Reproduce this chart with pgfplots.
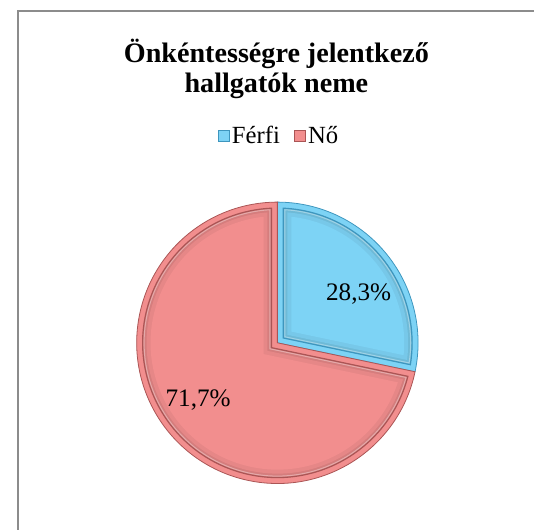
\documentclass[border=0pt]{standalone}
\usepackage{pgfplots}
\pgfplotsset{compat=1.18}
\usepackage{pgfplotstable}
\usepackage{fontspec}
\setmainfont{LiberationSerif}[Extension=.ttf, UprightFont=*-Regular, BoldFont=*-Bold, ItalicFont=*-Italic, BoldItalicFont=*-BoldItalic]
\definecolor{ferfi}{RGB}{125,211,245}
\definecolor{ferfid}{RGB}{62,150,190}
\definecolor{no}{RGB}{242,142,142}
\definecolor{nod}{RGB}{170,85,85}
\definecolor{frame}{RGB}{140,140,140}

\pgfplotstableread{
name value
Ferfi 28.3
No 71.7
}\piedata

% wedge path: start angle #1, end angle #2 (clockwise), radius #3, inset #4 (all in bp)
\newcommand{\wedgepath}[4]{%
  ({#4/sin((#1-#2)/2)*cos((#1+#2)/2)},{#4/sin((#1-#2)/2)*sin((#1+#2)/2)}) --
  ({(#3-#4)*cos(#1-asin(#4/(#3-#4)))},{(#3-#4)*sin(#1-asin(#4/(#3-#4)))})
  arc[start angle={#1-asin(#4/(#3-#4))}, end angle={#2+asin(#4/(#3-#4))}, radius={(#3-#4)*1bp}] -- cycle}

\pgfplotsset{sqlegend/.style={legend image code/.code={\draw[##1] (0bp,-5.5bp) rectangle (11bp,5.5bp);}}}

\begin{document}
\pgfplotstablegetelem{0}{value}\of\piedata \let\vA\pgfplotsretval
\pgfplotstablegetelem{1}{value}\of\piedata \let\vB\pgfplotsretval
\pgfmathsetmacro{\aA}{90}
\pgfmathsetmacro{\aB}{90-3.6*\vA}
\pgfmathsetmacro{\aC}{90-3.6*(\vA+\vB)}
\def\R{142}
\begin{tikzpicture}[x=1bp,y=1bp]
\useasboundingbox (0,0) rectangle (529,534);
\clip (0,0) rectangle (529,534);
\draw[frame, line width=2bp] (8,-5) -- (8,523) -- (529,523);
\begin{axis}[
  at={(120,38)}, anchor=south west,
  x=1bp, y=1bp, disabledatascaling,
  xmin=-150, xmax=150, ymin=-150, ymax=150,
  hide axis, clip=false,
  legend style={at={(0.507,1.197)}, anchor=center, draw=none, fill=none,
    legend columns=2, font=\fontsize{25}{25}\selectfont,
    /tikz/every even column/.append style={column sep=12bp},
    nodes={inner sep=2.5bp}},
]
\addlegendimage{sqlegend, fill=ferfi, draw=ferfid}
\addlegendentry{Férfi}
\addlegendimage{sqlegend, fill=no, draw=nod}
\addlegendentry{Nő}
% Férfi slice
\fill[ferfi, draw=ferfid, line width=0.8bp] \wedgepath{\aA}{\aB}{\R}{0};
\fill[ferfi!88!black] \wedgepath{\aA}{\aB}{\R}{6};
\fill[ferfi!95!black] \wedgepath{\aA}{\aB}{\R}{10};
\fill[ferfi] \wedgepath{\aA}{\aB}{\R}{14};
\draw[ferfid, line width=1.2bp] \wedgepath{\aA}{\aB}{\R}{6};
\draw[white, opacity=0.35, line width=1bp] \wedgepath{\aA}{\aB}{\R}{7.5};
% Nő slice
\fill[no, draw=nod, line width=0.8bp] \wedgepath{\aB}{\aC}{\R}{0};
\fill[no!88!black] \wedgepath{\aB}{\aC}{\R}{6};
\fill[no!95!black] \wedgepath{\aB}{\aC}{\R}{10};
\fill[no] \wedgepath{\aB}{\aC}{\R}{14};
\draw[nod, line width=1.2bp] \wedgepath{\aB}{\aC}{\R}{6};
\draw[white, opacity=0.35, line width=1bp] \wedgepath{\aB}{\aC}{\R}{7.5};
\node[font=\fontsize{25.5}{25.5}\selectfont] at (axis cs:82,49) {28,3\%};
\node[font=\fontsize{25.5}{25.5}\selectfont] at (axis cs:-80,-58) {71,7\%};
\end{axis}
\node[anchor=base, font=\fontsize{28.5}{30}\selectfont\bfseries] at (269,471) {Önkéntességre jelentkező};
\node[anchor=base, font=\fontsize{28.5}{30}\selectfont\bfseries] at (269,441) {hallgatók neme};
\end{tikzpicture}
\end{document}
